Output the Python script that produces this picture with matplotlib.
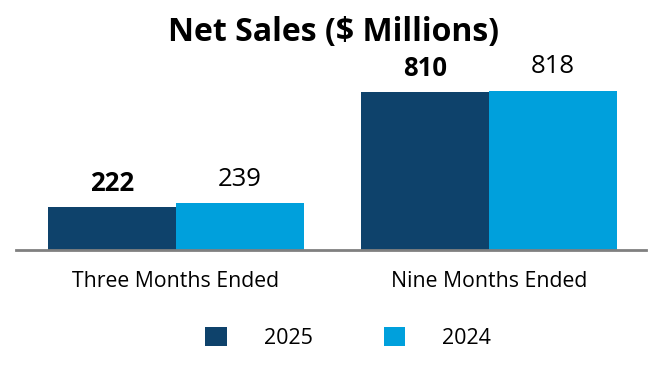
import matplotlib
matplotlib.use("Agg")
import matplotlib.pyplot as plt
from matplotlib.patches import Patch

plt.rcParams['font.family'] = ['Open Sans', 'DejaVu Sans']

categories = ["Three Months Ended", "Nine Months Ended"]
series_names = ["2025", "2024"]
values_2025 = [222, 810]
values_2024 = [239, 818]
colors = ["#0E426B", "#00A0DC"]
title = "Net Sales ($ Millions)"

fig = plt.figure(figsize=(6.66, 3.8), dpi=100)
ax = fig.add_axes([16/666, 130/380, 630/666, 190/380])

x = [0, 1]
w = 0.409
b1 = ax.bar([xi - w/2 for xi in x], values_2025, width=w, color=colors[0], label=series_names[0])
b2 = ax.bar([xi + w/2 for xi in x], values_2024, width=w, color=colors[1], label=series_names[1])

for rect, v in zip(b1, values_2025):
    ax.annotate(f"{v}", (rect.get_x() + rect.get_width()/2, v), xytext=(0, 7),
                textcoords="offset points", ha="center", va="bottom",
                fontsize=18.5, fontweight="bold", color="black")
for rect, v in zip(b2, values_2024):
    ax.annotate(f"{v}", (rect.get_x() + rect.get_width()/2, v), xytext=(0, 8),
                textcoords="offset points", ha="center", va="bottom",
                fontsize=18.5, color="black")

ax.set_xlim(-0.511, 1.502)
ax.set_ylim(0, 975)
for s in ["top", "right", "left"]:
    ax.spines[s].set_visible(False)
ax.spines["bottom"].set_color("#808080")
ax.spines["bottom"].set_linewidth(2)
ax.set_yticks([])
ax.set_xticks(x)
ax.set_xticklabels(categories, fontsize=15.3)
ax.tick_params(axis="x", length=0, pad=15)

fig.text(0.5, 1 - 33/380, title, ha="center", va="center", fontsize=23, fontweight="bold")

handles = [Patch(facecolor=colors[0]), Patch(facecolor=colors[1])]
fig.legend(handles, series_names, loc="center", bbox_to_anchor=(348/666, 1 - 338/380),
           ncol=2, frameon=False, fontsize=15.5, handlelength=1.0, handleheight=1.0,
           handletextpad=1.7, columnspacing=3.3)

fig.savefig("out.png", dpi=100)
